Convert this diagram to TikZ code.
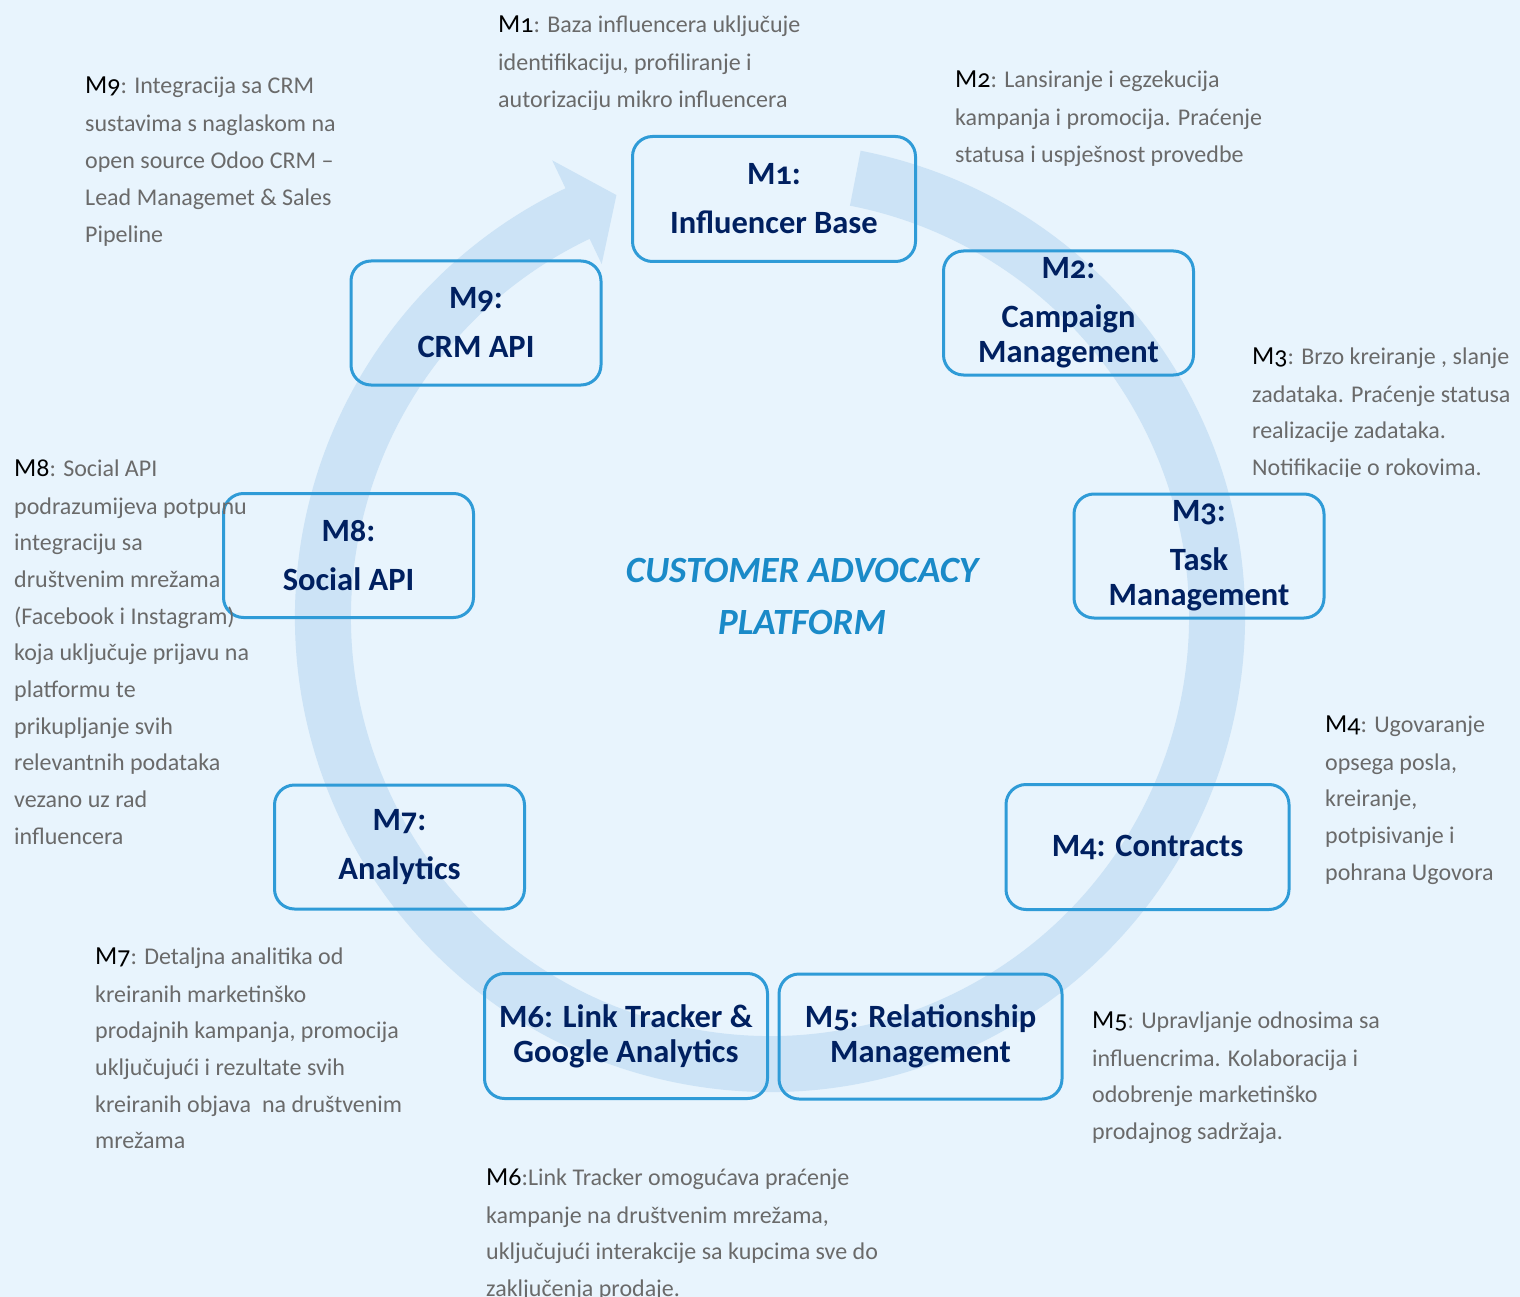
\documentclass[tikz,border=0pt]{standalone}
\usepackage{fontspec}
\setmainfont{Carlito}[Numbers=OldStyle]
\usetikzlibrary{calc}
\definecolor{bg}{HTML}{E8F4FD}
\definecolor{ring}{HTML}{CCE3F6}
\definecolor{boxline}{HTML}{2F9BD7}
\definecolor{navy}{HTML}{002060}
\definecolor{titleblue}{HTML}{1A8AC8}
\definecolor{desc}{HTML}{6A6A6A}
\newcommand\mlab[1]{{\color{black}\fontsize{26}{36.7}\selectfont #1}}
\begin{document}
\begin{tikzpicture}[x=1pt,y=-1pt,
  modbox/.style={draw=boxline, line width=3pt, rounded corners=20pt, inner sep=0pt, align=center, text=navy, font=\fontsize{32.5}{35}\selectfont\bfseries},
  narrowbox/.style={modbox, minimum width=250pt, minimum height=124pt},
  widebox/.style={modbox, minimum width=283pt, minimum height=125pt},
  desctext/.style={anchor=base west, align=left, inner sep=0pt, text=desc, font=\fontsize{24}{36.7}\selectfont},
  titletext/.style={anchor=base, align=center, inner sep=0pt, text=titleblue, font=\fontsize{37}{52}\selectfont\bfseries\itshape}
]
\fill[bg] (0,0) rectangle (1520,1297);
\useasboundingbox (0,0) rectangle (1520,1297);

% circular arrow
\coordinate (C) at (770,617);
\fill[ring] ($(C)+(-79:475)$) arc[start angle=-79, end angle=244.5, radius=475]
  -- ($(C)+(244.5:506)$) -- ($(C)+(250:449)$) -- ($(C)+(244.5:391)$)
  -- ($(C)+(244.5:419)$) arc[start angle=244.5, end angle=-79, radius=419] -- cycle;

% modules
\node[widebox]   (m1) at (774,199)     {M1:\\[14pt]Influencer Base};
\node[narrowbox] (m2) at (1068.5,313)  {M2:\\[14pt]Campaign\\Management};
\node[narrowbox] (m3) at (1199,556)    {M3:\\[14pt]Task\\Management};
\node[widebox]   (m4) at (1147.5,847)  {M4: Contracts};
\node[widebox]   (m5) at (920.5,1036.5){M5: Relationship\\Management};
\node[widebox]   (m6) at (626,1036)    {M6: Link Tracker \&\\Google Analytics};
\node[narrowbox] (m7) at (399.5,847)   {M7:\\[14pt]Analytics};
\node[narrowbox] (m8) at (348.5,555.5) {M8:\\[14pt]Social API};
\node[narrowbox] (m9) at (476,323)     {M9:\\[14pt]CRM API};

% title (anchor = baseline of last line)
\node[titletext] (title) at (802,634) {CUSTOMER ADVOCACY\\PLATFORM};

% descriptions (anchor = baseline of last line)
\begin{scope}
\clip (480,0) rectangle (840,110);
\node[desctext] (d1) at (498,107.7) {\mlab{M1}: Baza influencera uključuje\\[1.3pt]identifikaciju, profiliranje i\\autorizaciju mikro influencera};
\end{scope}
\node[desctext] (d2) at (955,162.7) {\mlab{M2}: Lansiranje i egzekucija\\[1.3pt]kampanja i promocija. Praćenje\\statusa i uspješnost provedbe};
\begin{scope}
\clip (1240,320) rectangle (1520,476);
\node[desctext] (d3) at (1252,475.4) {\mlab{M3}: Brzo kreiranje , slanje\\[1.3pt]zadataka. Praćenje statusa\\realizacije zadataka.\\Notifikacije o rokovima.};
\end{scope}
\node[desctext] (d4) at (1325,880.1) {\mlab{M4}: Ugovaranje\\[1.3pt]opsega posla,\\kreiranje,\\potpisivanje i\\pohrana Ugovora};
\node[desctext] (d5) at (1092,1139.4) {\mlab{M5}: Upravljanje odnosima sa\\[1.3pt]influencrima. Kolaboracija i\\odobrenje marketinško\\prodajnog sadržaja.};
\node[desctext] (d6) at (486,1296.4) {\mlab{M6}:Link Tracker omogućava praćenje\\[1.3pt]kampanje na društvenim mrežama,\\uključujući interakcije sa kupcima sve do\\zaključenja prodaje.};
\node[desctext] (d7) at (95,1148.8) {\mlab{M7}: Detaljna analitika od\\[1.3pt]kreiranih marketinško\\prodajnih kampanja, promocija\\uključujući i rezultate svih\\kreiranih objava\ \ na društvenim\\mrežama};
\node[desctext] (d8) at (14,844.3) {\mlab{M8}: Social API\\[1.3pt]podrazumijeva potpunu\\integraciju sa\\društvenim mrežama\\(Facebook i Instagram)\\koja uključuje prijavu na\\platformu te\\prikupljanje svih\\relevantnih podataka\\vezano uz rad\\influencera};
\node[desctext] (d9) at (85,242.1) {\mlab{M9}: Integracija sa CRM\\[1.3pt]sustavima s naglaskom na\\open source Odoo CRM –\\Lead Managemet \& Sales\\Pipeline};
\end{tikzpicture}
\end{document}
